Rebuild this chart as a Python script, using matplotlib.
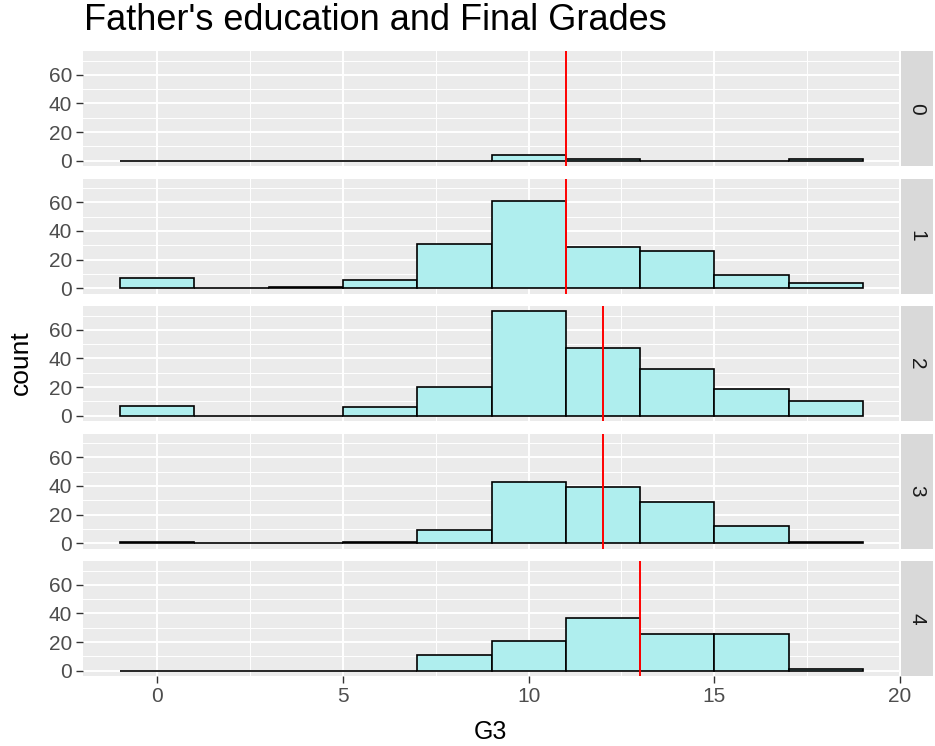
import numpy as np
import matplotlib
matplotlib.use("Agg")
import matplotlib.pyplot as plt
from matplotlib.ticker import MultipleLocator

plt.rcParams['font.family'] = ['Liberation Sans', 'DejaVu Sans']

# histogram of G3 by father's education (binwidth 2, centres 0..18)
bin_centers = [0, 2, 4, 6, 8, 10, 12, 14, 16, 18]
fedu_levels = ['0', '1', '2', '3', '4']
counts_f0 = [0, 0, 0, 0, 0, 4, 1, 0, 0, 1]
counts_f1 = [7, 0, 1, 6, 31, 61, 29, 26, 9, 4]
counts_f2 = [7, 0, 0, 6, 20, 73, 47, 33, 19, 10]
counts_f3 = [1, 0, 0, 1, 9, 43, 39, 29, 12, 1]
counts_f4 = [0, 0, 0, 0, 11, 21, 37, 26, 26, 1]
medians = [11, 11, 12, 12, 13]

all_counts = [counts_f0, counts_f1, counts_f2, counts_f3, counts_f4]

W, H = 935, 746
fig = plt.figure(figsize=(W / 100, H / 100), dpi=100)

left, right = 83, 900
strip_w = 32
panel_h = 115
first_top = 51
step = 127.5

ymax = max(max(c) for c in all_counts)
pad = ymax * 0.05

axes = []
for i, (lvl, cnt, med) in enumerate(zip(fedu_levels, all_counts, medians)):
    top = first_top + i * step
    ax = fig.add_axes([left / W, 1 - (top + panel_h) / H, (right - left) / W, panel_h / H])
    ax.set_facecolor('#EBEBEB')
    ax.bar(bin_centers, cnt, width=2, color='#AFEEEE', edgecolor='black', linewidth=1.2, zorder=3)
    ax.axvline(med, color='red', linewidth=1.4, zorder=4)
    ax.set_xlim(-2, 20)
    ax.set_ylim(-pad, ymax + pad)
    ax.xaxis.set_major_locator(MultipleLocator(5))
    ax.xaxis.set_minor_locator(MultipleLocator(2.5))
    ax.yaxis.set_major_locator(MultipleLocator(20))
    ax.yaxis.set_minor_locator(MultipleLocator(10))
    ax.grid(which='major', color='white', linewidth=1.4, zorder=0)
    ax.grid(which='minor', color='white', linewidth=0.7, zorder=0)
    ax.set_axisbelow(True)
    for s in ax.spines.values():
        s.set_visible(False)
    ax.tick_params(axis='both', which='major', length=5, width=1.0, color='#333333',
                   labelsize=15, labelcolor='#4D4D4D', pad=3)
    ax.tick_params(axis='both', which='minor', length=0)
    if i < len(fedu_levels) - 1:
        ax.tick_params(axis='x', labelbottom=False, length=0)
    # facet strip on the right
    sax = fig.add_axes([(right + 1) / W, 1 - (top + panel_h) / H, strip_w / W, panel_h / H])
    sax.set_facecolor('#D9D9D9')
    sax.set_xticks([])
    sax.set_yticks([])
    for s in sax.spines.values():
        s.set_visible(False)
    sax.text(0.5, 0.5, lvl, rotation=-90, ha='center', va='center',
             fontsize=15, color='#1A1A1A', transform=sax.transAxes)
    axes.append(ax)

fig.text(490 / W, 1 - 732 / H, 'G3', ha='center', va='center', fontsize=18)
fig.text(21 / W, 1 - 363 / H, 'count', rotation=90, ha='center', va='center', fontsize=19)
fig.text(84 / W, 1 - 21 / H, "Father's education and Final Grades", ha='left', va='center',
         fontsize=26)

fig.savefig('out.png', dpi=100)
